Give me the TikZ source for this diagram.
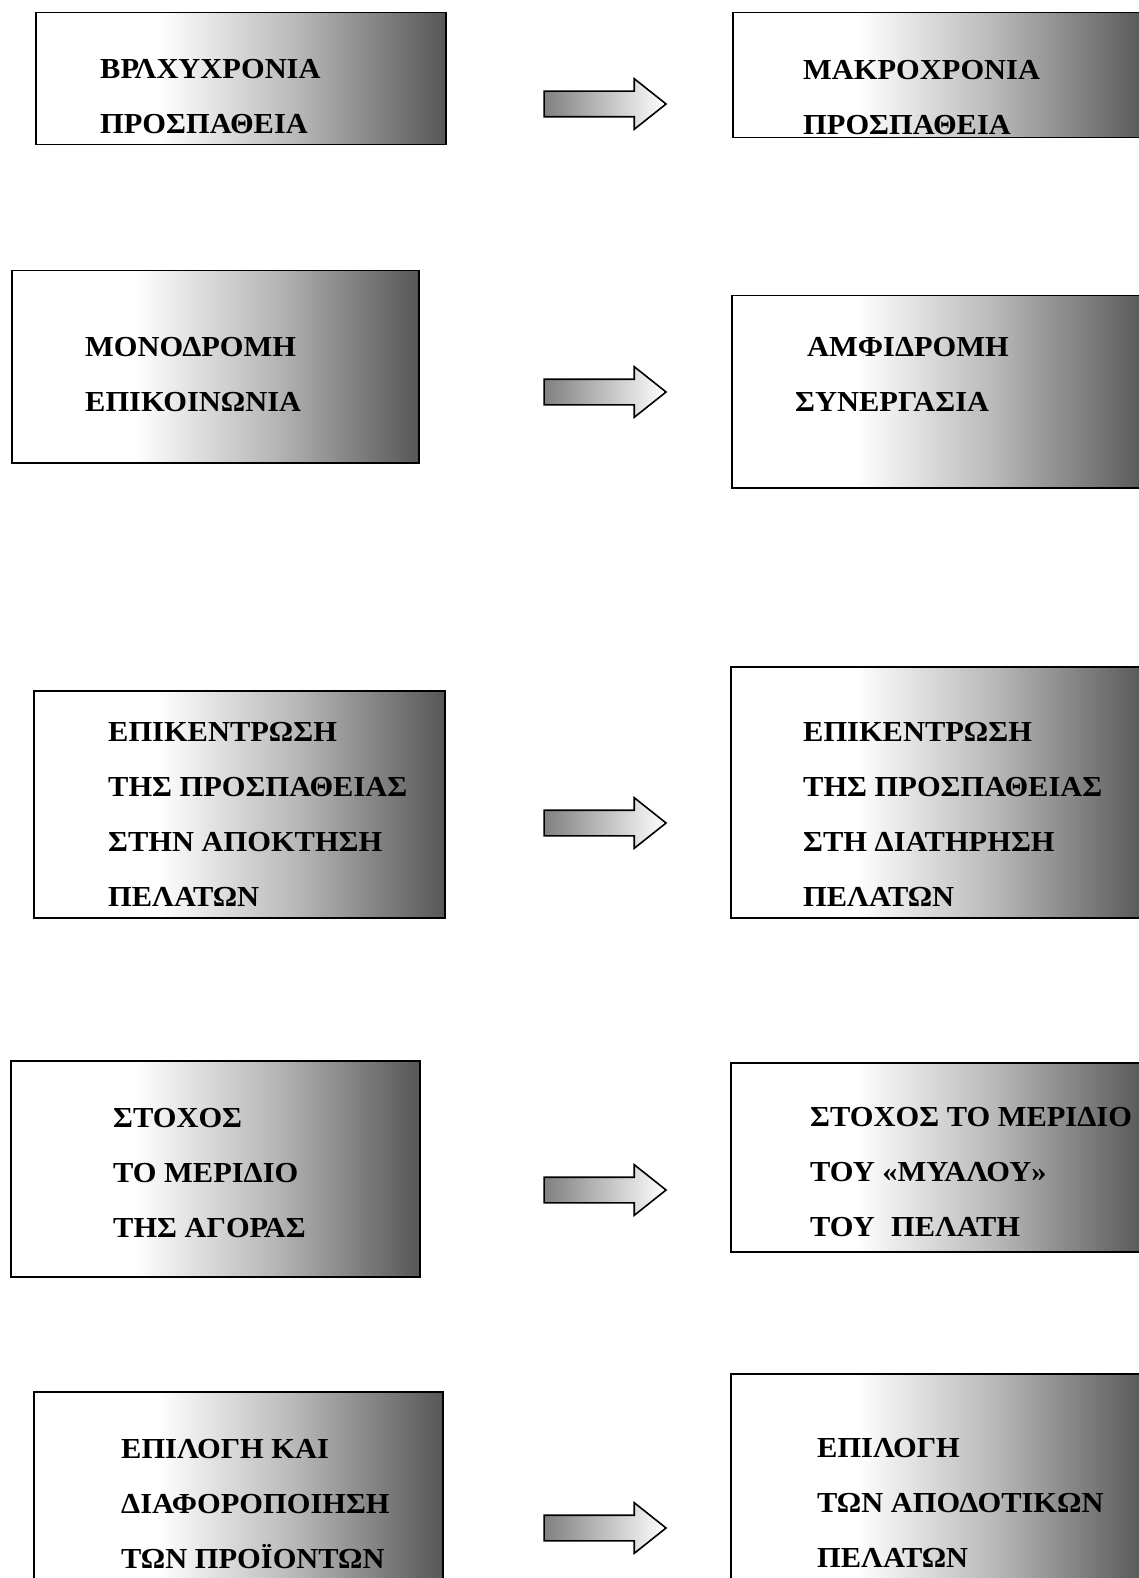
\documentclass[tikz,border=0pt]{standalone}
\usepackage{fontspec}
\setmainfont{Liberation Serif}[FakeStretch=1.05]
\usetikzlibrary{shapes.arrows,positioning}

\pgfdeclarehorizontalshading{boxfade}{100bp}{color(0bp)=(white); color(25bp)=(white); color(40bp)=(white); color(57bp)=(black!28); color(75bp)=(black!66); color(100bp)=(black!66)}

\tikzset{
  box/.style={rectangle, draw, line width=1.5pt, shading=boxfade, inner sep=0pt, anchor=north west},
  % base of a multi-line node is the baseline of its last line
  boxtext/.style={anchor=base west, align=left, inner sep=0pt, font=\fontsize{29}{55}\selectfont\bfseries},
  fatarrow/.style={single arrow, draw, line width=1.6pt, left color=black!50, right color=white,
    minimum height=122pt, inner xsep=0pt, inner ysep=12pt,
    single arrow head extend=12.5pt, single arrow tip angle=77}
}

\begin{document}
\begin{tikzpicture}[x=1pt, y=-1pt]
  \useasboundingbox (0, 0) rectangle (1139, 1578);
  % left column
  \node [box, minimum width=410pt, minimum height=132pt] (b1l) at (35, 12) {};
  \node [box, minimum width=407pt, minimum height=192pt] (b2l) at (11, 270) {};
  \node [box, minimum width=411pt, minimum height=227pt] (b3l) at (33, 690) {};
  \node [box, minimum width=409pt, minimum height=216pt] (b4l) at (10, 1060) {};
  \node [box, minimum width=409pt, minimum height=209pt] (b5l) at (33, 1391) {};
  % right column
  \node [box, minimum width=413pt, minimum height=125pt] (b1r) at (732, 12) {};
  \node [box, minimum width=414pt, minimum height=192pt] (b2r) at (731, 295) {};
  \node [box, minimum width=415pt, minimum height=251pt] (b3r) at (730, 666) {};
  \node [box, minimum width=415pt, minimum height=189pt] (b4r) at (730, 1062) {};
  \node [box, minimum width=415pt, minimum height=227pt] (b5r) at (730, 1373) {};

  \node [boxtext] (t1l) at (100, 134) {ΒΡΛΧΥΧΡΟΝΙΑ\\ΠΡΟΣΠΑΘΕΙΑ};
  \node [boxtext] (t2l) at (85, 411) {ΜΟΝΟΔΡΟΜΗ\\ΕΠΙΚΟΙΝΩΝΙΑ};
  \node [boxtext] (t3l) at (108, 906) {ΕΠΙΚΕΝΤΡΩΣΗ\\ΤΗΣ ΠΡΟΣΠΑΘΕΙΑΣ\\ΣΤΗΝ ΑΠΟΚΤΗΣΗ\\ΠΕΛΑΤΩΝ};
  \node [boxtext] (t4l) at (113, 1237) {ΣΤΟΧΟΣ\\ΤΟ ΜΕΡΙΔΙΟ\\ΤΗΣ ΑΓΟΡΑΣ};
  \node [boxtext] (t5l) at (121, 1568) {ΕΠΙΛΟΓΗ ΚΑΙ\\ΔΙΑΦΟΡΟΠΟΙΗΣΗ\\ΤΩΝ ΠΡΟΪΟΝΤΩΝ};

  \node [boxtext] (t1r) at (803, 135) {ΜΑΚΡΟΧΡΟΝΙΑ\\ΠΡΟΣΠΑΘΕΙΑ};
  \node [boxtext] (t2r) at (795, 411) {\hspace*{12pt}ΑΜΦΙΔΡΟΜΗ\\ΣΥΝΕΡΓΑΣΙΑ};
  \node [boxtext] (t3r) at (803, 906) {ΕΠΙΚΕΝΤΡΩΣΗ\\ΤΗΣ ΠΡΟΣΠΑΘΕΙΑΣ\\ΣΤΗ ΔΙΑΤΗΡΗΣΗ\\ΠΕΛΑΤΩΝ};
  \node [boxtext] (t4r) at (810, 1236) {ΣΤΟΧΟΣ ΤΟ ΜΕΡΙΔΙΟ\\ΤΟΥ «ΜΥΑΛΟΥ»\\ΤΟΥ\hspace{0.3em} ΠΕΛΑΤΗ};
  \node [boxtext] (t5r) at (817, 1567) {ΕΠΙΛΟΓΗ\\ΤΩΝ ΑΠΟΔΟΤΙΚΩΝ\\ΠΕΛΑΤΩΝ};

  % arrows between the columns
  \node [fatarrow] (a1) at (597, 104) {};
  \node [fatarrow] (a2) at (597, 392) {};
  \node [fatarrow] (a3) at (597, 823) {};
  \node [fatarrow] (a4) at (597, 1190) {};
  \node [fatarrow] (a5) at (597, 1528) {};
\end{tikzpicture}
\end{document}
